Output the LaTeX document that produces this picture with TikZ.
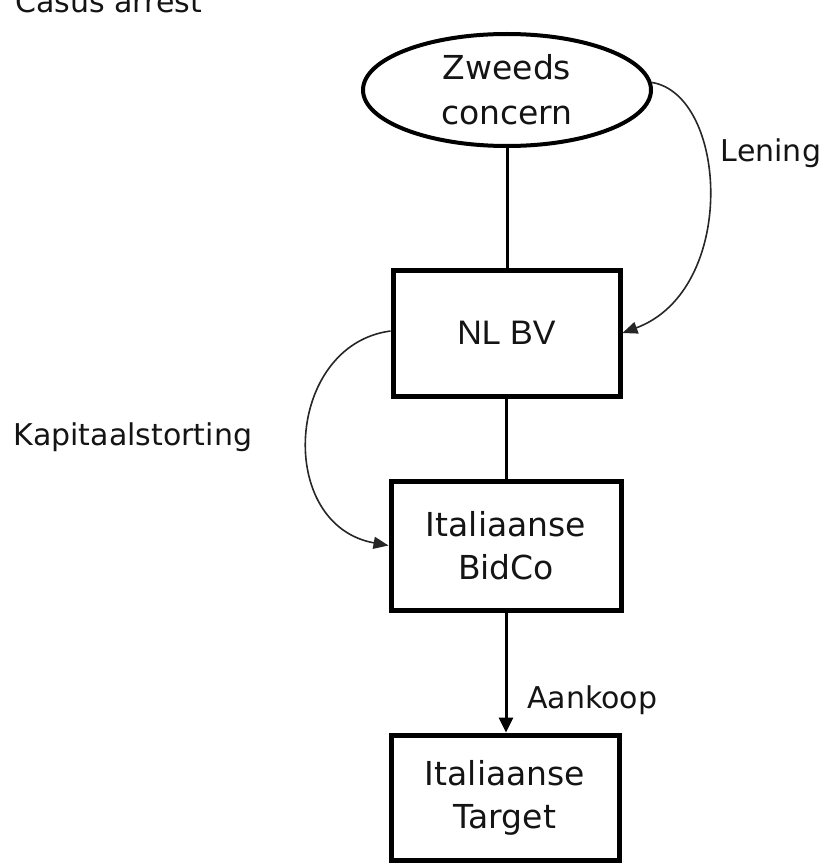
\documentclass[tikz,border=0pt]{standalone}
\usepackage{fontspec}
\setmainfont{DejaVu Sans}
\newfontfamily\arialfont{Liberation Sans}
\usetikzlibrary{shapes.geometric,arrows.meta}
\definecolor{ink}{HTML}{141414}
\tikzset{
  entity/.style={draw=black, line width=5pt, rectangle, inner sep=0pt,
    align=center, text=ink, font=\fontsize{33}{43}\selectfont},
  parent/.style={draw=black, line width=4pt, ellipse, inner sep=0pt,
    align=center, text=ink, font=\fontsize{33}{45}\selectfont},
  label/.style={text=ink, inner sep=0pt, font=\fontsize{30}{36}\selectfont},
  holding/.style={line width=3pt, draw=black},
  flow/.style={line width=1.6pt, draw=black!85,
    -{Triangle[length=15pt,width=12pt]}},
  purchase/.style={line width=3pt, draw=black,
    -{Triangle[length=15pt,width=14pt]}}
}
\begin{document}
\begin{tikzpicture}[x=1pt,y=-1pt]
\useasboundingbox (0,0) rectangle (826,864);

% title
\node[label, anchor=base west] (title) at (15,13) {Casus arrest};

% entities
\node[parent, minimum width=288pt, minimum height=112pt] (zweeds) at (507,90) {Zweeds\\concern};
\node[entity, minimum width=227pt, minimum height=126pt, font=\arialfont\fontsize{34}{40}\selectfont] (nlbv) at (506.5,333) {NL BV};
\node[entity, minimum width=230pt, minimum height=129pt] (bidco) at (506,545.5) {Italiaanse\\BidCo};
\node[entity, minimum width=228pt, minimum height=125pt] (target) at (505,797.5) {Italiaanse\\Target};

% ownership lines
\draw[holding] (zweeds.south) -- (zweeds.south |- nlbv.north);
\draw[holding] (nlbv.south) -- (nlbv.south |- bidco.north);
\draw[purchase] (bidco.south) -- (bidco.south |- target.north);

% funding flows
\draw[flow] (zweeds.3) .. controls (728,95) and (738,290) .. (nlbv.east);
\draw[flow] ([yshift=2pt]nlbv.west) .. controls (285,345) and (275,525) .. (bidco.west);

% labels
\node[label] (lening) at (771,153) {Lening};
\node[label] (kapitaal) at (133,437) {Kapitaalstorting};
\node[label, anchor=west] (aankoop) at (527,700) {Aankoop};
\end{tikzpicture}
\end{document}
